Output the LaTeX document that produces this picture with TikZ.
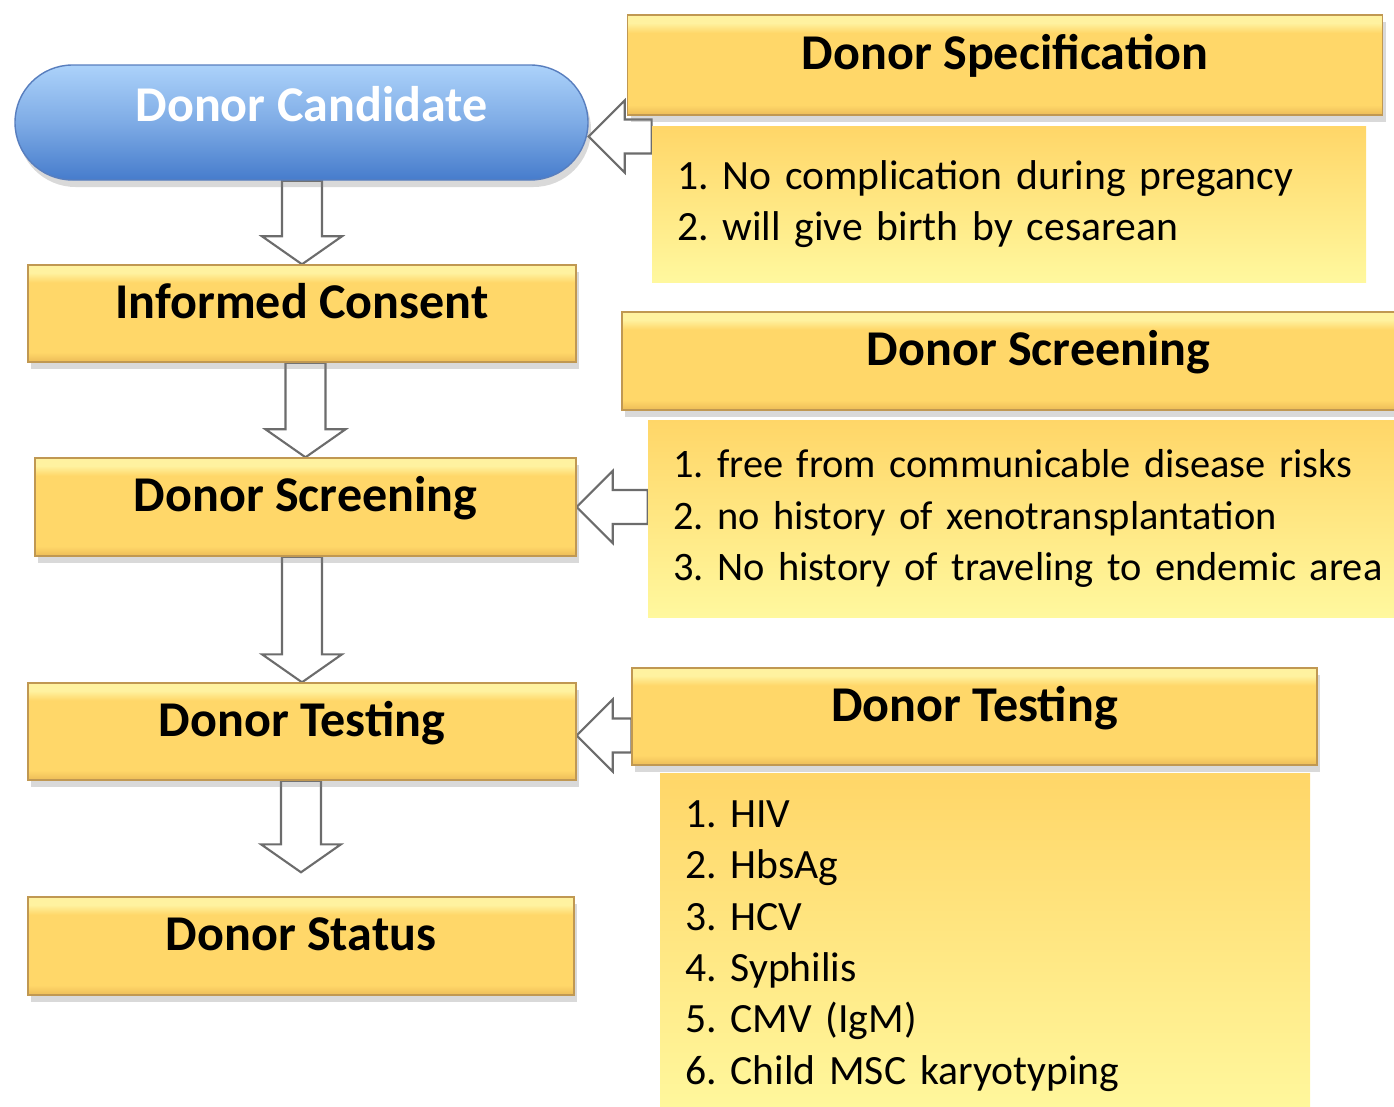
\documentclass[tikz,border=0pt]{standalone}
\usepackage{fontspec}
\setmainfont{Carlito}
\usetikzlibrary{calc,shadows,backgrounds}
\definecolor{candtop}{RGB}{172,210,250}
\definecolor{candbot}{RGB}{70,124,204}
\definecolor{candline}{RGB}{88,126,190}
\definecolor{boxtop}{RGB}{255,242,160}
\definecolor{boxmid}{RGB}{255,215,105}
\definecolor{boxbot}{RGB}{236,188,88}
\definecolor{boxline}{RGB}{192,152,82}
\definecolor{itemtop}{RGB}{255,214,104}
\definecolor{itembot}{RGB}{255,248,158}
% flat gold with a light band on top and a darker one below
\pgfdeclareverticalshading{bevel}{100bp}{color(0bp)=(boxbot); color(25bp)=(boxbot);
  color(30bp)=(boxmid); color(66bp)=(boxmid); color(71bp)=(boxtop); color(100bp)=(boxtop)}
\tikzset{
  stepbox/.style={
    % The shape:
    rectangle,
    % The size:
    minimum width=10.96cm, minimum height=1.94cm,
    % The border:
    thick,
    draw=boxline,
    % The filling:
    shading=bevel,
    % shadow below
    drop shadow={shadow xshift=0.06cm, shadow yshift=-0.14cm, opacity=0.3},
    % Font
    font=\fontsize{28.5}{34}\selectfont\bfseries,
    text height=0.75cm, text depth=0.57cm,
  },
  candbox/.style={
    stepbox,
    rounded corners=1.15cm,
    draw=candline,
    top color=candtop,
    bottom color=candbot,
    middle color=candtop!55!candbot,
    text=white,
    text height=0.65cm, text depth=0.71cm,
  },
  itembox/.style={
    rectangle,
    top color=itemtop,
    bottom color=itembot,
    align=left,
    inner xsep=0.5cm,
    font=\fontsize{23.7}{29.2}\selectfont\frenchspacing,
  },
  blockarrow/.style={
    fill=white,
    draw=gray!85!black,
    line width=1.2pt,
    line join=miter,
  }
}
% down arrow: shaft starts at the height of #1, tip at #2
\newcommand{\blockdown}[2]{%
  \draw[blockarrow] ($(#2 |- #1)+(-0.4,0)$) -- ($(#2)+(-0.4,0.56)$) -- ($(#2)+(-0.8,0.56)$)
    -- (#2) -- ($(#2)+(0.8,0.56)$) -- ($(#2)+(0.4,0.56)$) -- ($(#2 |- #1)+(0.4,0)$) -- cycle;}
% left arrow: tail at the x of #1, tip at #2
\newcommand{\blockleft}[2]{%
  \draw[blockarrow] ($(#1 |- #2)+(0,0.34)$) -- ($(#2)+(0.72,0.34)$) -- ($(#2)+(0.72,0.72)$)
    -- (#2) -- ($(#2)+(0.72,-0.72)$) -- ($(#2)+(0.72,-0.34)$) -- ($(#1 |- #2)+(0,-0.34)$) -- cycle;}

\begin{document}
\begin{tikzpicture}

  \useasboundingbox (0, 0) rectangle (27.88, -22.14);

  % left column
  \node (cand) [candbox, minimum width=11.46cm, minimum height=2.3cm] at (6.03, -2.45) {\hspace{0.4cm}Donor Candidate};
  \node (consent) [stepbox] at (6.04, -6.27) {Informed Consent};
  \node (screen) [stepbox, minimum width=10.82cm, minimum height=1.96cm] at (6.11, -10.14) {Donor Screening};
  \node (testing) [stepbox] at (6.04, -14.63) {Donor Testing};
  \node (status) [stepbox, minimum width=10.92cm, minimum height=1.96cm] at (6.02, -18.92) {Donor Status};

  % right column
  \node (specitems) [itembox, minimum width=14.28cm, minimum height=3.12cm, text width=13.28cm] at (20.18, -4.08)
    {1. No complication during pregancy\\2. will give birth by cesarean};
  \node (spechead) [stepbox, minimum width=15.1cm, minimum height=2.0cm] at (20.1, -1.30) {Donor Specification};

  \node (screenitems) [itembox, minimum width=15.84cm, minimum height=3.94cm, text width=14.84cm,
    font=\fontsize{23}{29.2}\selectfont\frenchspacing] at (20.88, -10.37)
    {1. free from communicable disease risks\\2. no history of xenotransplantation\\3. No history of traveling to endemic area};
  \node (screenhead) [stepbox, minimum width=16.66cm, minimum height=1.96cm] at (20.77, -7.22) {Donor Screening};

  \node (testitems) [itembox, minimum width=13.0cm, minimum height=6.9cm, text width=12.0cm] at (19.70, -18.92)
    {1. HIV\\2. HbsAg\\3. HCV\\4. Syphilis\\5. CMV (IgM)\\6. Child MSC karyotyping};
  \node (testhead) [stepbox, minimum width=13.7cm, minimum height=1.94cm] at (19.49, -14.33) {Donor Testing};

  \coordinate (statustip) at ($(status.north) + (0, 0.48)$);
  \coordinate (candtip) at ($(cand.east) + (0, -0.28)$);
  \coordinate (testtip) at ($(testing.east) + (0, -0.08)$);

  \begin{scope}[on background layer]
    \blockdown{cand.south}{consent.north}
    \blockdown{consent.south}{screen.north}
    \blockdown{screen.south}{testing.north}
    \blockdown{testing.south}{statustip}

    \blockleft{specitems.west}{candtip}
    \blockleft{screenitems.west}{screen.east}
    \blockleft{testhead.west}{testtip}
  \end{scope}

\end{tikzpicture}
\end{document}
